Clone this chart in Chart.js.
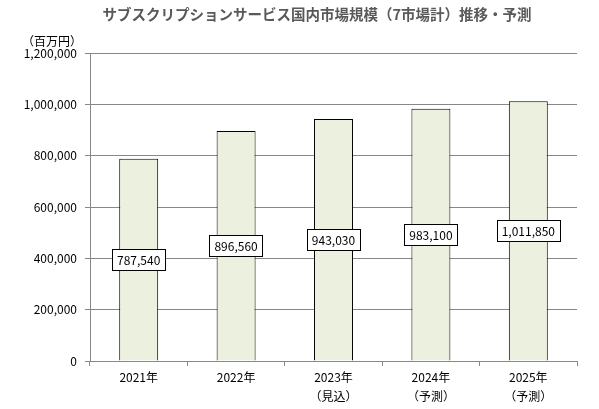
<!DOCTYPE html>
<html>
<head>
<meta charset="utf-8">
<script src="https://cdn.jsdelivr.net/npm/chart.js@4/dist/chart.umd.min.js"></script>
<style>
html,body{margin:0;padding:0;background:#fff;}
#wrap{width:599px;height:409px;position:relative;}
</style>
</head>
<body>
<div id="wrap"><canvas id="c" width="599" height="409"></canvas></div>
<script>
const titleText = 'サブスクリプションサービス国内市場規模（7市場計）推移・予測';
const unitText = '（百万円）';
const categories = [['2021年'], ['2022年'], ['2023年', '（見込）'], ['2024年', '（予測）'], ['2025年', '（予測）']];
const marketValues = [787540, 896560, 943030, 983100, 1011850];
const yTickMin = 0;
const yTickMax = 1200000;
const yTickStep = 200000;

const FONT = '"Noto Sans CJK JP", "Noto Sans", sans-serif';

const textPlugin = {
  id: 'texts',
  afterDraw(chart) {
    const ctx = chart.ctx;
    ctx.save();
    ctx.fillStyle = '#595959';
    ctx.font = 'bold 14.5px ' + FONT;
    ctx.textAlign = 'center';
    ctx.textBaseline = 'middle';
    ctx.fillText(titleText, 317, 14);
    ctx.fillStyle = '#000';
    ctx.font = '12px ' + FONT;
    ctx.fillText(unitText, 52, 41);
    ctx.restore();
  }
};

const labelPlugin = {
  id: 'boxLabels',
  afterDatasetsDraw(chart) {
    const ctx = chart.ctx;
    const meta = chart.getDatasetMeta(0);
    ctx.save();
    ctx.font = '12px ' + FONT;
    ctx.textAlign = 'center';
    ctx.textBaseline = 'middle';
    meta.data.forEach((bar, i) => {
      const txt = marketValues[i].toLocaleString('en-US');
      const cy = (bar.y + bar.base) / 2;
      const w = ctx.measureText(txt).width + 10;
      const h = 21;
      const x0 = Math.round(bar.x - w / 2) + 0.5;
      const y0 = Math.round(cy - h / 2) + 0.5;
      ctx.fillStyle = '#fff';
      ctx.fillRect(x0, y0, Math.round(w), h);
      ctx.strokeStyle = '#000';
      ctx.lineWidth = 1;
      ctx.strokeRect(x0, y0, Math.round(w), h);
      ctx.fillStyle = '#000';
      ctx.fillText(txt, bar.x, cy + 0.5);
    });
    ctx.restore();
  }
};

new Chart(document.getElementById('c'), {
  type: 'bar',
  data: {
    labels: categories,
    datasets: [{
      data: marketValues,
      backgroundColor: '#ebf1de',
      borderColor: '#000',
      borderWidth: 1,
      categoryPercentage: 0.4,
      barPercentage: 1.0
    }]
  },
  options: {
    responsive: false,
    animation: false,
    devicePixelRatio: 1,
    layout: { padding: { top: 53, right: 22, left: 0, bottom: 0 } },
    plugins: { legend: { display: false }, tooltip: { enabled: false }, title: { display: false } },
    scales: {
      x: {
        offset: true,
        grid: { display: true, offset: true, drawOnChartArea: false, color: '#888', tickLength: 5 },
        border: { color: '#888' },
        ticks: { color: '#000', font: { family: FONT, size: 12, lineHeight: 1.6 }, padding: 2, maxRotation: 0 },
        afterFit(scale) { scale.height = 48; }
      },
      y: {
        min: yTickMin,
        max: yTickMax,
        grid: { color: '#888', tickLength: 5 },
        border: { color: '#888' },
        ticks: {
          stepSize: yTickStep,
          color: '#000',
          font: { family: FONT, size: 12 },
          padding: 8,
          callback: v => v.toLocaleString('en-US')
        },
        afterFit(scale) { scale.width = 90; }
      }
    }
  },
  plugins: [textPlugin, labelPlugin]
});
</script>
</body>
</html>
